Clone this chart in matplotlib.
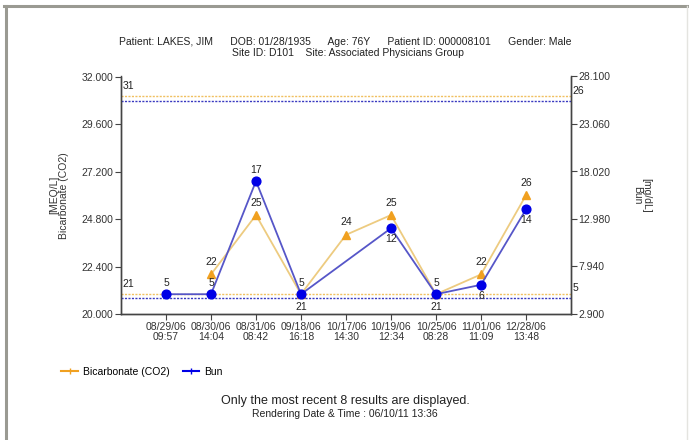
import numpy as np
import matplotlib
matplotlib.use('Agg')
import matplotlib.pyplot as plt
from matplotlib.lines import Line2D

plt.rcParams['font.family'] = ['Liberation Sans', 'DejaVu Sans']

# data
dates = ['08/29/06\n09:57', '08/30/06\n14:04', '08/31/06\n08:42', '09/18/06\n16:18',
         '10/17/06\n14:30', '10/19/06\n12:34', '10/25/06\n08:28', '11/01/06\n11:09',
         '12/28/06\n13:48']
bicarb = [np.nan, 22, 25, 21, 24, 25, 21, 22, 26]
bun = [5, 5, 17, 5, np.nan, 12, 5, 6, 14]
bicarb_limits = [21, 31]
bun_limits = [4.6, 25.5]
bun_limit_labels = ['5', '26']

# label placement: +1 above, -1 below
bicarb_lbl_side = [0, 1, 1, -1, 1, 1, -1, 1, 1]
bun_lbl_side = [1, 1, 1, 1, 0, -1, 1, -1, -1]

orange_line = '#EDCB80'
orange_mk = '#F0A020'
blue_line = '#5656C8'
blue_mk = '#0000E6'

fig = plt.figure(figsize=(6.89, 4.40), dpi=100)
ax = fig.add_axes([121 / 689, 1 - 314 / 440, 450 / 689, 237.5 / 440])
ax2 = ax.twinx()

x = np.arange(len(dates))
b = np.array(bicarb, dtype=float)
u = np.array(bun, dtype=float)
mb = ~np.isnan(b)
mu = ~np.isnan(u)

# limit lines
for v in bicarb_limits:
    ax.axhline(v, color='#F0C060', lw=1.0, ls=(0, (1.5, 1)))
for v in bun_limits:
    ax2.axhline(v, color='#3838C0', lw=1.0, ls=(0, (1.5, 1)))

ax.plot(x[mb], b[mb], color=orange_line, lw=1.3, zorder=3)
ax.plot(x[mb], b[mb], ls='none', marker='^', ms=6, color=orange_mk, zorder=4)
ax2.plot(x[mu], u[mu], color=blue_line, lw=1.3, zorder=3)
ax2.plot(x[mu], u[mu], ls='none', marker='o', ms=6.3, color=blue_mk, zorder=4)

fs = 7.5
for i in x[mb]:
    ax.annotate(f'{b[i]:.0f}', (i, b[i]), xytext=(0, 9 * bicarb_lbl_side[i]),
                textcoords='offset points', ha='center', va='center', fontsize=fs, color='#222222')
for i in x[mu]:
    ax2.annotate(f'{u[i]:.0f}', (i, u[i]), xytext=(0, 8 * bun_lbl_side[i]),
                 textcoords='offset points', ha='center', va='center', fontsize=fs, color='#222222')

# limit value labels
for v in bicarb_limits:
    ax.annotate(f'{v}', (-1, v), xytext=(1, 7.5), textcoords='offset points',
                ha='left', va='center', fontsize=fs, color='#222222')
for v, t in zip(bun_limits, bun_limit_labels):
    ax2.annotate(t, (9, v), xytext=(1, 7.5), textcoords='offset points',
                 ha='left', va='center', fontsize=fs, color='#222222')

ax.set_xlim(-1, 9)
ax.set_ylim(20, 32)
ax2.set_ylim(2.9, 28.1)
ax.set_yticks(np.linspace(20, 32, 6))
ax2.set_yticks(np.linspace(2.9, 28.1, 6))
ax.set_yticklabels([f'{t:.3f}' for t in np.linspace(20, 32, 6)], fontsize=fs, color='#333333')
ax2.set_yticklabels([f'{t:.3f}' for t in np.linspace(2.9, 28.1, 6)], fontsize=fs, color='#333333')
ax.set_xticks(x)
ax.set_xticklabels(dates, fontsize=fs, color='#333333', linespacing=1.0)

for a in (ax, ax2):
    a.spines['top'].set_visible(False)
    for s in a.spines.values():
        s.set_color('#444444')
        s.set_linewidth(1.0)
    a.tick_params(length=4, width=0.8, color='#444444', pad=1.5)

ax.set_ylabel('[MEQ/L]\nBicarbonate (CO2)', fontsize=fs, color='#333333', linespacing=1.0)
ax.yaxis.set_label_coords(-0.115, 0.5)
ax2.set_ylabel('[mg/dL]\nBun', fontsize=fs, color='#333333', rotation=270,
               linespacing=1.0, va='bottom')
ax2.yaxis.set_label_coords(1.135, 0.5)

# header
fig.text(345 / 689, 1 - 42 / 440,
         'Patient: LAKES, JIM      DOB: 01/28/1935      Age: 76Y      Patient ID: 000008101      Gender: Male',
         ha='center', va='center', fontsize=fs, color='#222222')
fig.text(348 / 689, 1 - 53 / 440, 'Site ID: D101    Site: Associated Physicians Group',
         ha='center', va='center', fontsize=fs, color='#222222')

# legend
handles = [Line2D([], [], color=orange_mk, lw=1.5, marker='|', ms=4),
           Line2D([], [], color=blue_mk, lw=1.5, marker='|', ms=4)]
fig.legend(handles, ['Bicarbonate (CO2)', 'Bun'], loc='center left',
           bbox_to_anchor=(52 / 689, 1 - 372 / 440), ncol=2, frameon=False,
           fontsize=fs, handlelength=1.6, handletextpad=0.5, columnspacing=1.2)

# footer
fig.text(345 / 689, 1 - 401 / 440, 'Only the most recent 8 results are displayed.',
         ha='center', va='center', fontsize=9, color='#222222')
fig.text(345 / 689, 1 - 414 / 440, 'Rendering Date & Time : 06/10/11 13:36',
         ha='center', va='center', fontsize=fs, color='#222222')

# frame
fig.add_artist(Line2D([4 / 689, 1], [1 - 6.5 / 440, 1 - 6.5 / 440], color='#9a9a92', lw=2.2))
fig.add_artist(Line2D([5.5 / 689, 5.5 / 689], [0, 1 - 6.5 / 440], color='#9a9a92', lw=2.2))
fig.add_artist(Line2D([687 / 689, 687 / 689], [0, 1 - 6.5 / 440], color='#e4e4e0', lw=1.0))

fig.savefig('out.png', dpi=100)
